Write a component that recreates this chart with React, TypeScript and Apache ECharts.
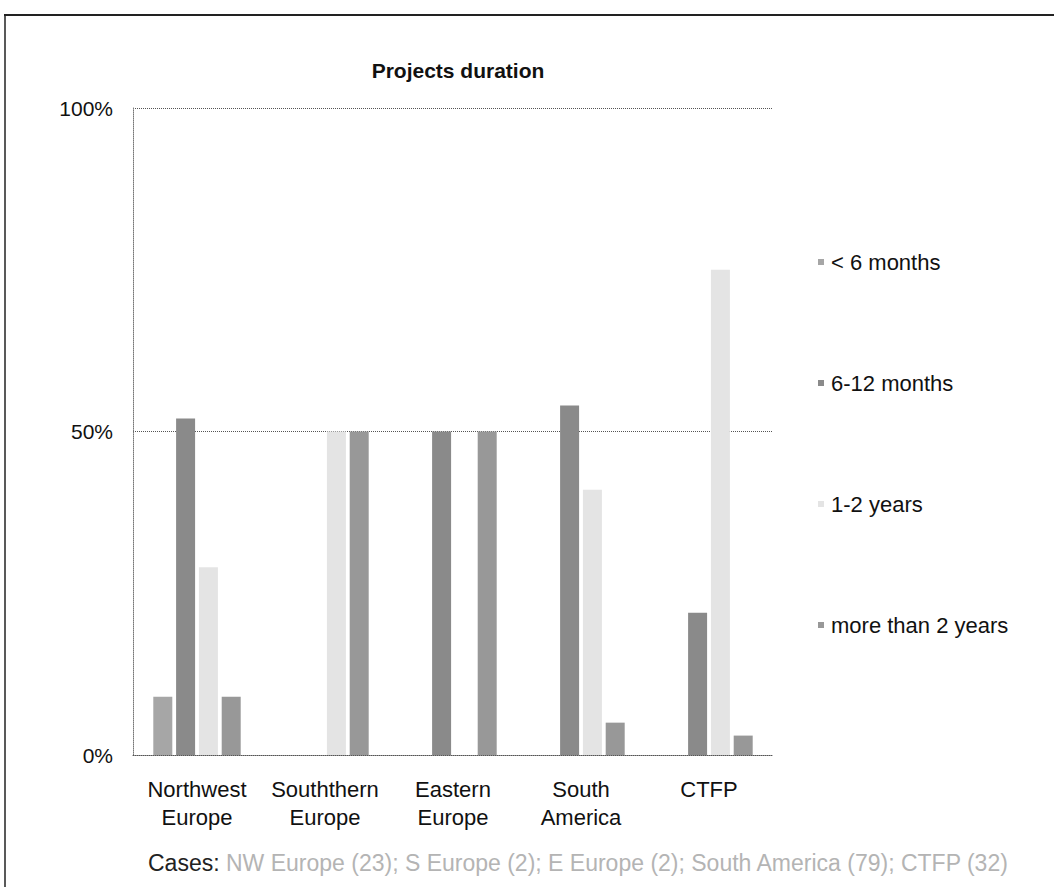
import React, { useEffect, useRef } from "react";
import * as echarts from "echarts";

const categories = [
  "Northwest\nEurope",
  "Souththern\nEurope",
  "Eastern\nEurope",
  "South\nAmerica",
  "CTFP",
];
const seriesNames = ["< 6 months", "6-12 months", "1-2 years", "more than 2 years"];
const lessThan6Months = [9, 0, 0, 0, 0];
const sixTo12Months = [52, 0, 50, 54, 22];
const oneTo2Years = [29, 50, 0, 41, 75];
const moreThan2Years = [9, 50, 50, 5, 3];
const seriesColors = ["#a6a6a6", "#8a8a8a", "#e4e4e4", "#989898"];
const yTicks = [0, 50, 100];
const captionLead = "Cases:";
const captionRest = " NW Europe (23); S Europe (2); E Europe (2); South America (79); CTFP (32)";

export default function App() {
  const ref = useRef<HTMLDivElement>(null);
  useEffect(() => {
    if (!ref.current) return;
    const chart = echarts.init(ref.current, null, { renderer: "svg" });
    const values = [lessThan6Months, sixTo12Months, oneTo2Years, moreThan2Years];
    const font = "'Liberation Sans', Arial, sans-serif";
    chart.setOption({
      animation: false,
      backgroundColor: "#ffffff",
      textStyle: { fontFamily: font },
      title: {
        text: "Projects duration",
        left: 453,
        textAlign: "center",
        top: 55,
        textStyle: { fontSize: 21, fontWeight: "bold", color: "#111", fontFamily: font },
      },
      legend: {
        orient: "vertical",
        left: 813,
        top: 246,
        itemGap: 99,
        itemWidth: 6,
        itemHeight: 6,
        icon: "rect",
        data: seriesNames,
        textStyle: { fontSize: 22, color: "#111", fontFamily: font, padding: [0, 0, 0, 2] },
      },
      grid: { left: 133, right: 281, top: 108, bottom: 132, containLabel: false },
      xAxis: {
        type: "category",
        data: categories,
        axisTick: { show: false },
        axisLine: { show: true, lineStyle: { color: "#555", type: "dotted", width: 1 } },
        axisLabel: { fontSize: 22, lineHeight: 28, color: "#111", margin: 20, interval: 0, fontFamily: font },
      },
      yAxis: {
        type: "value",
        min: yTicks[0],
        max: yTicks[yTicks.length - 1],
        interval: 50,
        axisLine: { show: true, lineStyle: { color: "#777", type: "dotted", width: 1 } },
        axisTick: { show: false },
        axisLabel: { formatter: "{value}%", fontSize: 21, color: "#111", margin: 20, fontFamily: font },
        splitLine: { show: true, lineStyle: { color: "#555", type: "dotted", width: 1 } },
      },
      series: seriesNames.map((name, i) => ({
        name,
        type: "bar",
        data: values[i],
        barWidth: 19,
        barGap: "20%",
        itemStyle: { color: seriesColors[i] },
      })),
      graphic: [
        {
          type: "line",
          shape: { x1: 4, y1: 15, x2: 1054, y2: 15 },
          style: { stroke: "#222", lineWidth: 2 },
        },
        {
          type: "line",
          shape: { x1: 5, y1: 14, x2: 5, y2: 887 },
          style: { stroke: "#222", lineWidth: 1.5 },
        },
        {
          type: "text",
          left: 148,
          top: 851,
          style: {
            text: "{a|" + captionLead + "}{b|" + captionRest + "}",
            rich: {
              a: { fontSize: 23, fill: "#222", fontFamily: font },
              b: { fontSize: 23, fill: "#b4b4b4", fontFamily: font },
            },
          },
        },
      ],
    });
    return () => chart.dispose();
  }, []);
  return (
    <div
      ref={ref}
      style={{ position: "fixed", left: 0, top: 0, width: 1054, height: 887, background: "#fff" }}
    />
  );
}
